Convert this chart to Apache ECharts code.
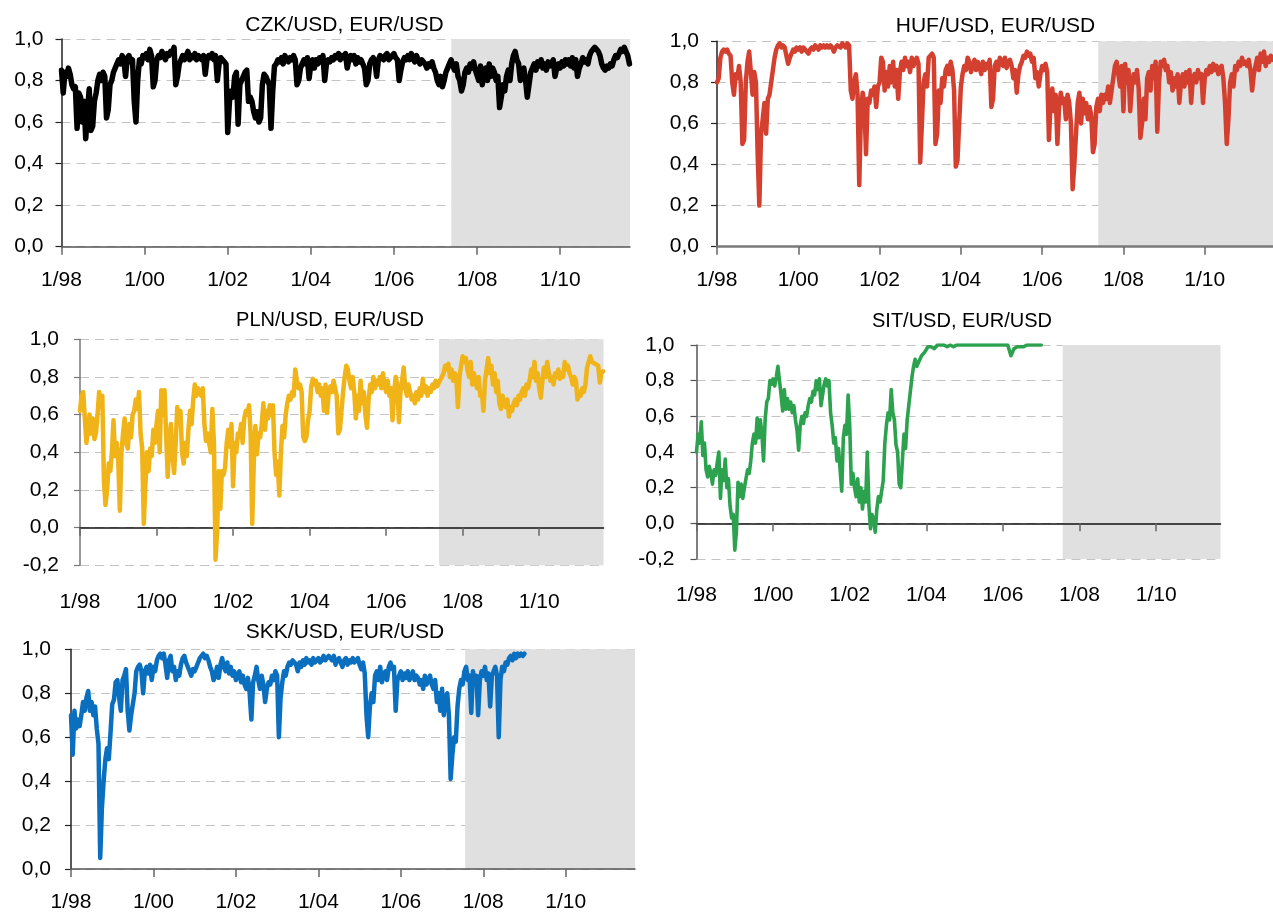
<!DOCTYPE html>
<html>
<head>
<meta charset="utf-8">
<script src="https://cdn.jsdelivr.net/npm/echarts@6/dist/echarts.min.js"></script>
<style>
html,body{margin:0;padding:0;background:#fff;}
#chart{width:1273px;height:913px;}
</style>
</head>
<body>
<div id="chart"></div>
<script>
// ---------------- DATA ----------------
const FIRST_YEAR = 1998;          // first observation: 1/98
const POINTS_PER_YEAR = 24;       // semi-monthly readings
const X_MAX = 2011.68;            // right end of every time axis
const tickYears = [1998, 2000, 2002, 2004, 2006, 2008, 2010];
const titles = ['CZK/USD, EUR/USD', 'HUF/USD, EUR/USD', 'PLN/USD, EUR/USD', 'SIT/USD, EUR/USD', 'SKK/USD, EUR/USD'];
const yMins = [0, 0, -0.2, -0.2, 0];
const yMax = 1;
const yStep = 0.2;
const shadeStart = [2007.38, 2007.38, 2007.38, 2007.56, 2007.56];

const czk = [
0.85,0.74,0.84,0.82,0.86,0.83,0.78,0.76,0.77,0.57,0.74,0.72,0.60,0.70,0.52,0.65,0.76,0.56,0.58,0.70,0.74,0.80,0.83,0.80,
0.84,0.82,0.62,0.66,0.78,0.80,0.84,0.86,0.88,0.90,0.88,0.92,0.90,0.82,0.91,0.92,0.89,0.90,0.70,0.60,0.80,0.90,0.88,0.92,
0.91,0.93,0.90,0.95,0.92,0.77,0.80,0.90,0.92,0.91,0.94,0.92,0.90,0.93,0.92,0.94,0.93,0.96,0.78,0.82,0.88,0.90,0.92,0.90,
0.92,0.94,0.90,0.92,0.91,0.93,0.90,0.92,0.91,0.90,0.92,0.83,0.90,0.92,0.91,0.93,0.90,0.92,0.80,0.88,0.91,0.90,0.89,0.88,
0.55,0.70,0.75,0.72,0.82,0.84,0.59,0.78,0.80,0.82,0.84,0.85,0.70,0.72,0.70,0.65,0.62,0.65,0.60,0.62,0.78,0.83,0.82,0.80,
0.78,0.57,0.75,0.87,0.88,0.90,0.89,0.91,0.88,0.92,0.90,0.89,0.91,0.90,0.92,0.90,0.78,0.80,0.86,0.88,0.90,0.88,0.91,0.81,
0.88,0.90,0.86,0.90,0.88,0.91,0.89,0.92,0.80,0.88,0.90,0.89,0.91,0.90,0.92,0.91,0.93,0.90,0.92,0.91,0.93,0.86,0.90,0.92,
0.90,0.92,0.88,0.91,0.89,0.90,0.88,0.86,0.78,0.80,0.88,0.90,0.91,0.89,0.82,0.90,0.92,0.91,0.90,0.92,0.93,0.90,0.91,0.92,
0.93,0.91,0.90,0.80,0.85,0.89,0.91,0.90,0.92,0.90,0.93,0.91,0.89,0.92,0.90,0.88,0.90,0.89,0.88,0.86,0.88,0.87,0.89,0.86,
0.84,0.80,0.78,0.82,0.77,0.80,0.84,0.86,0.88,0.90,0.87,0.85,0.88,0.82,0.80,0.75,0.78,0.84,0.86,0.84,0.88,0.86,0.89,0.85,
0.85,0.80,0.87,0.78,0.84,0.86,0.80,0.88,0.82,0.86,0.84,0.80,0.82,0.67,0.72,0.78,0.75,0.82,0.85,0.80,0.88,0.92,0.94,0.90,
0.88,0.80,0.84,0.86,0.80,0.72,0.78,0.84,0.86,0.88,0.85,0.89,0.87,0.90,0.86,0.88,0.85,0.89,0.87,0.88,0.90,0.82,0.86,0.88,
0.86,0.89,0.87,0.90,0.88,0.90,0.87,0.91,0.86,0.90,0.82,0.86,0.88,0.91,0.89,0.90,0.88,0.92,0.94,0.95,0.96,0.95,0.94,0.92,
0.88,0.86,0.85,0.87,0.86,0.88,0.87,0.90,0.92,0.91,0.93,0.95,0.94,0.96,0.94,0.92,0.88
];

const huf = [
0.80,0.82,0.92,0.95,0.96,0.95,0.96,0.94,0.93,0.80,0.74,0.84,0.82,0.88,0.80,0.50,0.52,0.80,0.90,0.95,0.85,0.74,0.85,0.80,
0.45,0.20,0.55,0.62,0.70,0.55,0.72,0.74,0.80,0.86,0.92,0.96,0.98,0.99,0.97,0.98,0.97,0.93,0.89,0.92,0.94,0.96,0.95,0.97,
0.96,0.97,0.95,0.97,0.96,0.95,0.94,0.96,0.97,0.96,0.98,0.97,0.96,0.98,0.97,0.98,0.97,0.98,0.97,0.98,0.97,0.95,0.97,0.98,
0.98,0.97,0.99,0.98,0.97,0.99,0.98,0.76,0.72,0.80,0.84,0.74,0.30,0.65,0.75,0.70,0.45,0.72,0.70,0.76,0.74,0.78,0.68,0.78,
0.80,0.92,0.90,0.76,0.85,0.78,0.88,0.80,0.90,0.78,0.86,0.72,0.85,0.90,0.86,0.92,0.88,0.90,0.85,0.92,0.88,0.90,0.92,0.89,
0.41,0.60,0.80,0.84,0.78,0.92,0.93,0.94,0.92,0.50,0.55,0.76,0.70,0.82,0.78,0.86,0.88,0.84,0.90,0.86,0.76,0.39,0.42,0.60,
0.78,0.84,0.88,0.86,0.92,0.90,0.85,0.88,0.91,0.86,0.90,0.88,0.84,0.90,0.86,0.89,0.87,0.91,0.68,0.72,0.88,0.90,0.86,0.92,
0.90,0.88,0.92,0.87,0.90,0.91,0.88,0.82,0.86,0.75,0.84,0.88,0.90,0.93,0.92,0.95,0.93,0.94,0.90,0.92,0.82,0.85,0.78,0.84,
0.88,0.86,0.89,0.85,0.52,0.70,0.77,0.66,0.74,0.50,0.68,0.75,0.70,0.72,0.62,0.74,0.70,0.60,0.28,0.40,0.55,0.70,0.75,0.60,
0.72,0.65,0.70,0.62,0.68,0.64,0.46,0.50,0.68,0.72,0.66,0.74,0.70,0.74,0.72,0.78,0.70,0.76,0.82,0.88,0.90,0.84,0.78,0.88,
0.66,0.89,0.80,0.86,0.66,0.78,0.84,0.80,0.86,0.77,0.53,0.60,0.72,0.62,0.82,0.85,0.76,0.88,0.82,0.90,0.56,0.80,0.90,0.88,
0.91,0.86,0.88,0.80,0.85,0.76,0.82,0.78,0.84,0.70,0.80,0.84,0.78,0.85,0.80,0.86,0.70,0.82,0.84,0.80,0.86,0.82,0.84,0.70,
0.82,0.86,0.84,0.88,0.85,0.89,0.86,0.88,0.84,0.87,0.88,0.82,0.70,0.50,0.62,0.80,0.84,0.78,0.88,0.86,0.90,0.88,0.92,0.89,
0.90,0.88,0.91,0.86,0.76,0.84,0.88,0.92,0.86,0.94,0.90,0.95,0.88,0.92,0.90,0.93,0.91
];

const pln = [
0.62,0.70,0.72,0.72,0.45,0.52,0.60,0.50,0.58,0.47,0.50,0.60,0.72,0.66,0.70,0.25,0.12,0.20,0.34,0.30,0.40,0.57,0.38,0.45,
0.35,0.09,0.40,0.50,0.58,0.45,0.42,0.55,0.48,0.60,0.62,0.68,0.63,0.72,0.50,0.42,0.02,0.22,0.40,0.30,0.42,0.38,0.52,0.45,
0.55,0.62,0.40,0.73,0.60,0.73,0.50,0.27,0.45,0.55,0.38,0.29,0.45,0.64,0.55,0.62,0.40,0.34,0.45,0.38,0.52,0.62,0.55,0.68,
0.76,0.70,0.74,0.72,0.70,0.74,0.55,0.46,0.50,0.45,0.40,0.63,0.45,-0.17,-0.02,0.30,0.10,0.30,0.28,0.32,0.45,0.52,0.43,0.55,
0.22,0.45,0.40,0.50,0.48,0.55,0.45,0.58,0.62,0.60,0.65,0.50,0.02,0.35,0.54,0.39,0.50,0.48,0.55,0.66,0.52,0.62,0.58,0.65,
0.60,0.65,0.40,0.28,0.35,0.17,0.40,0.54,0.48,0.60,0.66,0.70,0.68,0.72,0.70,0.84,0.78,0.74,0.76,0.72,0.48,0.46,0.48,0.57,
0.62,0.75,0.79,0.76,0.78,0.72,0.76,0.70,0.74,0.62,0.76,0.61,0.72,0.75,0.72,0.78,0.74,0.70,0.50,0.52,0.62,0.72,0.80,0.86,
0.84,0.78,0.74,0.80,0.72,0.58,0.70,0.62,0.78,0.66,0.72,0.60,0.53,0.68,0.76,0.72,0.80,0.74,0.78,0.76,0.80,0.74,0.82,0.76,
0.72,0.78,0.70,0.74,0.57,0.72,0.80,0.76,0.56,0.72,0.78,0.85,0.74,0.70,0.76,0.72,0.68,0.70,0.66,0.72,0.68,0.74,0.70,0.79,
0.72,0.75,0.70,0.74,0.72,0.76,0.74,0.78,0.75,0.77,0.76,0.80,0.82,0.86,0.84,0.87,0.80,0.84,0.78,0.82,0.80,0.64,0.80,0.86,
0.91,0.88,0.90,0.84,0.80,0.88,0.76,0.82,0.78,0.74,0.80,0.70,0.72,0.62,0.78,0.84,0.90,0.82,0.86,0.76,0.82,0.72,0.78,0.66,
0.63,0.70,0.66,0.64,0.68,0.59,0.64,0.62,0.66,0.68,0.65,0.70,0.68,0.72,0.74,0.70,0.76,0.74,0.78,0.84,0.80,0.88,0.78,0.82,
0.74,0.69,0.78,0.85,0.80,0.88,0.82,0.78,0.80,0.76,0.82,0.80,0.84,0.79,0.82,0.80,0.88,0.84,0.86,0.82,0.80,0.76,0.80,0.78,
0.68,0.72,0.70,0.74,0.72,0.76,0.85,0.84,0.91,0.88,0.89,0.87,0.88,0.86,0.77,0.82,0.83
];

const sit = [
0.40,0.50,0.45,0.57,0.38,0.45,0.30,0.26,0.32,0.28,0.22,0.30,0.27,0.34,0.40,0.14,0.30,0.24,0.36,0.20,0.25,0.10,0.03,0.05,
-0.15,-0.05,0.23,0.15,0.22,0.14,0.20,0.25,0.30,0.28,0.35,0.45,0.50,0.45,0.59,0.48,0.58,0.50,0.35,0.58,0.68,0.70,0.80,0.78,
0.81,0.77,0.82,0.88,0.80,0.72,0.63,0.75,0.64,0.70,0.64,0.68,0.62,0.66,0.58,0.52,0.41,0.55,0.60,0.56,0.62,0.60,0.66,0.70,
0.68,0.74,0.72,0.80,0.75,0.81,0.66,0.72,0.78,0.81,0.77,0.80,0.62,0.55,0.45,0.48,0.35,0.42,0.30,0.18,0.48,0.55,0.50,0.72,
0.55,0.22,0.28,0.20,0.15,0.25,0.12,0.20,0.08,0.18,0.12,0.40,0.10,-0.03,0.05,0.02,-0.05,0.08,0.15,0.12,0.18,0.24,0.45,0.55,
0.62,0.58,0.75,0.62,0.58,0.44,0.40,0.22,0.20,0.21,0.50,0.42,0.58,0.66,0.74,0.82,0.88,0.92,0.88,0.90,0.92,0.94,0.93,0.96,
0.97,0.99,0.98,0.99,1.00,0.98,0.99,1.00,0.99,1.00,0.99,1.00,1.00,0.99,1.00,1.00,1.00,0.99,1.00,1.00,1.00,1.00,1.00,1.00,
1.00,1.00,1.00,1.00,1.00,1.00,1.00,1.00,1.00,1.00,1.00,1.00,1.00,1.00,1.00,1.00,1.00,1.00,1.00,1.00,1.00,1.00,1.00,1.00,
1.00,1.00,1.00,1.00,0.97,0.94,0.96,0.98,0.97,0.99,0.98,0.99,1.00,0.99,1.00,1.00,1.00,1.00,1.00,1.00,1.00,1.00,1.00,1.00,
1.00
];

const skk = [
0.70,0.52,0.72,0.64,0.68,0.65,0.70,0.76,0.72,0.78,0.81,0.72,0.76,0.70,0.74,0.64,0.57,0.05,0.28,0.40,0.50,0.55,0.50,0.62,
0.75,0.77,0.85,0.86,0.78,0.72,0.86,0.88,0.91,0.72,0.63,0.70,0.75,0.80,0.90,0.92,0.93,0.90,0.80,0.90,0.92,0.89,0.93,0.86,
0.92,0.90,0.95,0.97,0.98,0.96,0.98,0.93,0.87,0.95,0.97,0.90,0.92,0.86,0.90,0.88,0.93,0.96,0.97,0.94,0.92,0.90,0.88,0.91,
0.90,0.92,0.94,0.96,0.97,0.98,0.96,0.97,0.95,0.92,0.90,0.86,0.88,0.92,0.87,0.93,0.96,0.92,0.90,0.94,0.89,0.92,0.88,0.90,
0.86,0.88,0.90,0.85,0.88,0.84,0.82,0.87,0.80,0.68,0.85,0.88,0.92,0.86,0.82,0.88,0.84,0.76,0.82,0.85,0.84,0.88,0.86,0.90,
0.88,0.60,0.78,0.85,0.90,0.88,0.92,0.94,0.93,0.95,0.94,0.93,0.90,0.94,0.92,0.95,0.93,0.96,0.94,0.95,0.93,0.96,0.94,0.95,
0.96,0.94,0.95,0.97,0.95,0.96,0.97,0.96,0.95,0.97,0.93,0.95,0.96,0.94,0.92,0.95,0.96,0.93,0.95,0.94,0.96,0.94,0.95,0.96,
0.93,0.91,0.94,0.89,0.70,0.60,0.74,0.80,0.76,0.88,0.90,0.86,0.92,0.85,0.88,0.90,0.86,0.92,0.94,0.91,0.92,0.72,0.86,0.88,
0.90,0.86,0.89,0.87,0.90,0.86,0.88,0.90,0.86,0.88,0.87,0.84,0.86,0.82,0.88,0.84,0.86,0.88,0.84,0.82,0.86,0.76,0.80,0.72,
0.82,0.70,0.78,0.80,0.70,0.41,0.52,0.60,0.58,0.74,0.82,0.86,0.84,0.90,0.92,0.86,0.88,0.71,0.90,0.84,0.88,0.70,0.86,0.90,
0.88,0.92,0.86,0.89,0.74,0.88,0.90,0.92,0.88,0.60,0.86,0.92,0.90,0.94,0.93,0.96,0.97,0.95,0.98,0.96,0.98,0.97,0.98,0.97,
0.98
];

const seriesValues = [czk, huf, pln, sit, skk];

// ---------------- LAYOUT / STYLE ----------------
const FONT = "'Liberation Sans', Arial, sans-serif";
const panels = [
  { left: 61.5, top: 39,    width: 568.5, height: 207.7, tx: 344.5, ty: 25,    tfs: 21, xMargin: 23,   yMargin: 18, color: '#000000', lw: 5.5, xAxisColor: '#555555', xAxisW: 1.5, yAxisColor: '#222222' },
  { left: 717,  top: 41.3,  width: 566,   height: 205.4, tx: 995.5, ty: 26.3,  tfs: 21, xMargin: 23,   yMargin: 18, color: '#d4402f', lw: 4.5, xAxisColor: '#7a7a7a', xAxisW: 2.5, yAxisColor: '#222222' },
  { left: 80,   top: 339.3, width: 523.5, height: 226,   tx: 330,   ty: 320,   tfs: 20, xMargin: 26,   yMargin: 21, color: '#f0b418', lw: 4.5, xAxisColor: '#111111', xAxisW: 1.5, yAxisColor: '#777777' },
  { left: 696.5,top: 345,   width: 524,   height: 214,   tx: 962,   ty: 321.7, tfs: 20, xMargin: 25.5, yMargin: 22, color: '#2ca24f', lw: 3.6, xAxisColor: '#111111', xAxisW: 1.5, yAxisColor: '#555555' },
  { left: 71,   top: 649.3, width: 564,   height: 220,   tx: 345,   ty: 632.2, tfs: 21, xMargin: 23,   yMargin: 20, color: '#0a6fbf', lw: 4.5, xAxisColor: '#555555', xAxisW: 1.5, yAxisColor: '#222222' }
];

const fmtX = v => '1/' + String(Math.round(v) % 100).padStart(2, '0');
const fmtY = v => v.toFixed(1).replace('.', ',');

const option = {
  animation: false,
  backgroundColor: '#ffffff',
  title: panels.map((p, k) => ({
    text: titles[k], left: p.tx, top: p.ty, padding: 0,
    textAlign: 'center', textVerticalAlign: 'middle',
    textStyle: { fontFamily: FONT, fontSize: p.tfs, fontWeight: 'normal', color: '#000' }
  })),
  grid: panels.map(p => ({ left: p.left, top: p.top, width: p.width, height: p.height })),
  xAxis: panels.map((p, k) => ({
    type: 'value', gridIndex: k, min: FIRST_YEAR, max: X_MAX, interval: 2, z: 1.5,
    axisLine: { show: true, onZero: true, lineStyle: { color: p.xAxisColor, width: p.xAxisW } },
    axisTick: { show: true, inside: false, length: 8, customValues: tickYears, lineStyle: { color: '#666', width: 1.5 } },
    axisLabel: { show: true, margin: p.xMargin, customValues: tickYears, formatter: fmtX,
                 fontFamily: FONT, fontSize: 21, color: '#000' },
    splitLine: { show: false }
  })),
  yAxis: panels.map((p, k) => ({
    type: 'value', gridIndex: k, min: yMins[k], max: yMax, interval: yStep,
    axisLine: { show: true, onZero: false, lineStyle: { color: p.yAxisColor, width: 1.5 } },
    axisTick: { show: true, inside: false, length: 6, lineStyle: { color: p.yAxisColor, width: 1.2 } },
    axisLabel: { margin: p.yMargin, formatter: fmtY, fontFamily: FONT, fontSize: 21, color: '#000' },
    splitLine: { show: true, lineStyle: { color: '#c4c4c4', width: 1.2, type: [9, 6] } }
  })),
  series: panels.map((p, k) => ({
    type: 'line', xAxisIndex: k, yAxisIndex: k, silent: true, z: 2,
    showSymbol: false, symbol: 'none',
    lineStyle: { color: p.color, width: p.lw, join: 'round', cap: 'round' },
    data: seriesValues[k].map((v, i) => [FIRST_YEAR + i / POINTS_PER_YEAR, v]),
    markArea: {
      silent: true, z: 1,
      itemStyle: { color: '#dfe0df', borderWidth: 0 },
      label: { show: false },
      data: [[{ xAxis: shadeStart[k] }, { xAxis: X_MAX }]]
    }
  }))
};

const chart = echarts.init(document.getElementById('chart'), null, { renderer: 'canvas' });
chart.setOption(option);
</script>
</body>
</html>
